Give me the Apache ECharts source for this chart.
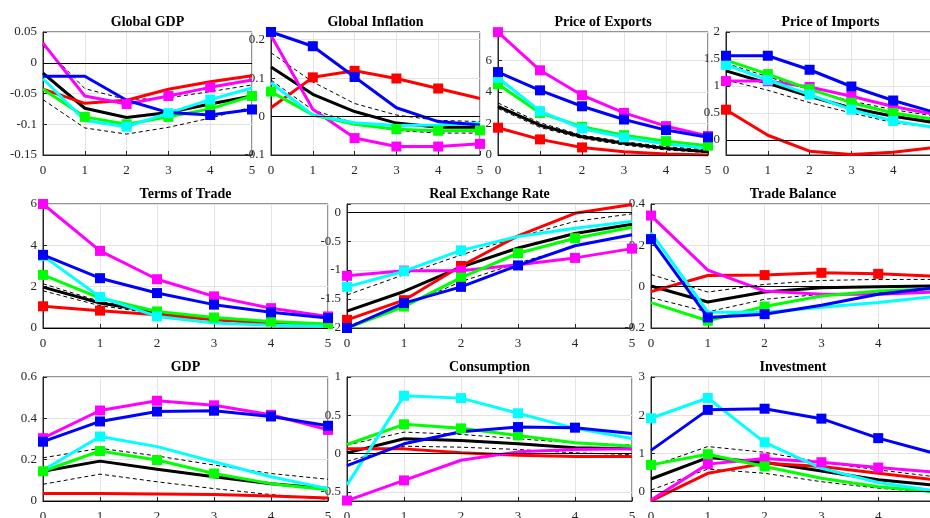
<!DOCTYPE html>
<html>
<head>
<meta charset="utf-8">
<script src="https://cdn.jsdelivr.net/npm/echarts@6/dist/echarts.min.js"></script>
<style>
  html, body { margin: 0; padding: 0; background: #fff; }
  #chart { width: 930px; height: 518px; }
</style>
</head>
<body>
<div id="chart"></div>
<script>
// horizon (quarters after shock)
const horizon = ['0', '1', '2', '3', '4', '5']

const panelTitles = [
  'Global GDP', 'Global Inflation', 'Price of Exports', 'Price of Imports',
  'Terms of Trade', 'Real Exchange Rate', 'Trade Balance',
  'GDP', 'Consumption', 'Investment',
]

// [min, max, tick step] for each panel's y axis
const yScales = [
  [-0.15, 0.05, 0.05], [-0.1, 0.22, 0.1], [0, 7.8, 2], [-0.28, 2, 0.5],
  [0, 6, 2], [-2, 0.14, 0.5], [-0.2, 0.4, 0.2],
  [0, 0.6, 0.2], [-0.62, 1, 0.5], [-0.245, 3, 1],
]

// median response (black) and its bands (black dashed), one row per panel
const medianIrf = [
  [-0.017, -0.074, -0.089, -0.081, -0.067, -0.054],
  [0.129, 0.058, 0.013, -0.017, -0.028, -0.028],
  [3.09, 1.89, 1.16, 0.74, 0.42, 0.21],
  [1.28, 1.05, 0.81, 0.59, 0.44, 0.32],
  [1.98, 1.21, 0.76, 0.43, 0.24, 0.13],
  [-1.71, -1.37, -0.95, -0.62, -0.37, -0.21],
  [0.003, -0.074, -0.026, -0.005, 0.0, 0.003],
  [0.144, 0.193, 0.154, 0.117, 0.084, 0.06],
  [0.009, 0.193, 0.171, 0.127, 0.075, 0.061],
  [0.33, 0.89, 0.77, 0.54, 0.31, 0.17],
]
const bandUpper = [
  [0.028, -0.042, -0.06, -0.057, -0.047, -0.036],
  [0.166, 0.09, 0.034, 0.004, -0.01, -0.013],
  [3.3, 2.04, 1.26, 0.84, 0.53, 0.32],
  [1.42, 1.17, 0.93, 0.72, 0.56, 0.44],
  [2.14, 1.29, 0.8, 0.48, 0.29, 0.18],
  [-1.43, -1.08, -0.74, -0.43, -0.16, -0.03],
  [0.059, -0.026, 0.011, 0.03, 0.035, 0.035],
  [0.209, 0.255, 0.218, 0.174, 0.133, 0.105],
  [0.11, 0.28, 0.25, 0.193, 0.14, 0.11],
  [0.66, 1.18, 1.03, 0.77, 0.57, 0.39],
]
const bandLower = [
  [-0.06, -0.106, -0.116, -0.105, -0.09, -0.072],
  [0.095, 0.017, -0.017, -0.036, -0.043, -0.043],
  [2.95, 1.75, 1.05, 0.63, 0.32, 0.15],
  [1.11, 0.92, 0.69, 0.5, 0.32, 0.23],
  [1.8, 1.08, 0.69, 0.37, 0.19, 0.1],
  [-1.97, -1.63, -1.2, -0.88, -0.59, -0.39],
  [-0.053, -0.122, -0.061, -0.037, -0.029, -0.021],
  [0.081, 0.13, 0.093, 0.06, 0.031, 0.008],
  [-0.1, 0.096, 0.083, 0.053, 0.009, -0.013],
  [0.04, 0.59, 0.48, 0.26, 0.09, -0.02],
]

// coloured responses
const redIrf = [
  [-0.043, -0.066, -0.061, -0.043, -0.031, -0.021],
  [0.023, 0.102, 0.119, 0.099, 0.073, 0.047],
  [1.73, 0.99, 0.48, 0.21, 0.06, 0.0],
  [0.56, 0.086, -0.21, -0.27, -0.23, -0.14],
  [1.05, 0.84, 0.64, 0.4, 0.24, 0.13],
  [-1.86, -1.52, -0.93, -0.41, -0.02, 0.13],
  [-0.024, 0.054, 0.056, 0.067, 0.062, 0.051],
  [0.036, 0.036, 0.034, 0.032, 0.024, 0.015],
  [0.061, 0.061, 0.009, -0.022, -0.04, -0.04],
  [-0.24, 0.48, 0.74, 0.66, 0.48, 0.31],
]
const magentaIrf = [
  [0.032, -0.054, -0.067, -0.054, -0.04, -0.028],
  [0.211, 0.019, -0.056, -0.078, -0.078, -0.071],
  [7.79, 5.37, 3.79, 2.67, 1.83, 1.2],
  [1.09, 1.09, 0.98, 0.81, 0.62, 0.47],
  [6.0, 3.73, 2.36, 1.53, 0.96, 0.56],
  [-1.1, -1.01, -1.01, -0.91, -0.79, -0.63],
  [0.344, 0.08, -0.021, -0.037, -0.037, -0.026],
  [0.304, 0.438, 0.485, 0.463, 0.417, 0.344],
  [-0.614, -0.351, -0.088, 0.022, 0.053, 0.061],
  [-0.22, 0.72, 0.87, 0.77, 0.63, 0.51],
]
const greenIrf = [
  [-0.043, -0.088, -0.1, -0.088, -0.075, -0.054],
  [0.065, 0.004, -0.02, -0.033, -0.037, -0.036],
  [4.48, 2.67, 1.79, 1.26, 0.88, 0.59],
  [1.48, 1.22, 0.94, 0.69, 0.5, 0.38],
  [2.57, 1.45, 0.8, 0.51, 0.32, 0.19],
  [-2.0, -1.63, -1.13, -0.71, -0.45, -0.26],
  [-0.077, -0.165, -0.096, -0.045, -0.021, -0.01],
  [0.144, 0.242, 0.198, 0.133, 0.084, 0.055],
  [0.118, 0.382, 0.329, 0.237, 0.14, 0.096],
  [0.7, 0.98, 0.66, 0.35, 0.13, 0.0],
]
const cyanIrf = [
  [-0.026, -0.094, -0.104, -0.082, -0.06, -0.041],
  [0.088, 0.004, -0.016, -0.023, -0.022, -0.017],
  [4.9, 2.78, 1.68, 1.12, 0.69, 0.42],
  [1.39, 1.11, 0.84, 0.56, 0.35, 0.23],
  [3.49, 1.5, 0.56, 0.24, 0.13, 0.08],
  [-1.29, -1.02, -0.66, -0.42, -0.28, -0.16],
  [0.262, -0.122, -0.125, -0.1, -0.077, -0.048],
  [0.149, 0.312, 0.263, 0.19, 0.117, 0.06],
  [-0.41, 0.754, 0.724, 0.526, 0.329, 0.197],
  [1.92, 2.45, 1.29, 0.61, 0.24, 0.02],
]
const blueIrf = [
  [-0.022, -0.022, -0.061, -0.081, -0.085, -0.076],
  [0.22, 0.183, 0.103, 0.023, -0.013, -0.022],
  [5.26, 4.1, 3.09, 2.25, 1.58, 1.12],
  [1.56, 1.56, 1.3, 0.99, 0.73, 0.51],
  [3.54, 2.41, 1.69, 1.13, 0.76, 0.48],
  [-2.0, -1.57, -1.29, -0.92, -0.58, -0.39],
  [0.23, -0.149, -0.133, -0.09, -0.037, -0.005],
  [0.287, 0.385, 0.433, 0.437, 0.409, 0.364],
  [-0.158, 0.127, 0.285, 0.346, 0.338, 0.263],
  [1.08, 2.14, 2.17, 1.91, 1.4, 1.0],
]

// horizons that carry a square marker, per panel
const redMarks = [[], [1, 2, 3, 4], [0, 1, 2], [0], [0, 1], [0, 1, 2], [2, 3, 4, 5], [], [], []]
const magentaMarks = [[2, 3, 4], [2, 3, 4, 5], [0, 1, 2, 3, 4, 5], [0, 1, 2, 3, 4, 5], [0, 1, 2, 3, 4, 5],
  [0, 1, 2, 4, 5], [0], [0, 1, 2, 3, 4, 5], [0, 1], [1, 2, 3, 4]]
const greenMarks = [[1, 2, 3, 4, 5], [0, 3, 4, 5], [0, 1, 2, 3, 4, 5], [0, 1, 2, 3, 4], [0, 2, 3, 4, 5],
  [1, 2, 3, 4], [1, 2], [0, 1, 2, 3], [1, 2, 3], [0, 1, 2]]
const cyanMarks = [[2, 3, 4], [], [0, 1, 2, 3], [0, 1, 2, 3, 4, 5], [0, 1, 2], [0, 1, 2], [], [1], [1, 2, 3], [0, 1, 2]]
const blueMarks = [[4, 5], [0, 1, 2], [0, 1, 2, 3, 4, 5], [0, 1, 2, 3, 4, 5], [0, 1, 2, 3, 4, 5],
  [0, 1, 2, 3], [0, 1, 2], [0, 1, 2, 3, 4, 5], [3, 4], [1, 2, 3, 4]]

// plot boxes [left, top, width, height] (matlab subplot layout, right column runs off the page)
const boxes = [
  [43, 32, 209, 123], [271, 32, 209, 123], [498, 32, 210, 123], [726, 32, 209, 123],
  [43, 204, 285, 124], [347, 204, 285, 124], [651, 204, 284, 124],
  [43, 377, 285, 124], [347, 377, 285, 124], [651, 377, 284, 124],
]

const FONT = '"Liberation Serif", "DejaVu Serif", serif'
const AXIS_COLOR = '#262626'

function fmt(v, step) {
  const k = v / step
  if (Math.abs(k - Math.round(k)) > 1e-6) return ''
  const r = parseFloat((Math.round(k) * step).toFixed(4))
  return r === 0 ? '0' : String(r)
}

function colouredSeries(i, name, color, values, marks) {
  return {
    name: name,
    type: 'line',
    xAxisIndex: i,
    yAxisIndex: i,
    symbolSize: 10,
    showAllSymbol: true,
    lineStyle: { color: color, width: 3 },
    itemStyle: { color: color },
    data: values.map((v, j) => ({ value: v, symbol: marks.includes(j) ? 'rect' : 'none' })),
  }
}

const chart = echarts.init(document.getElementById('chart'), null, { renderer: 'canvas' })

const grid = []
const xAxis = []
const yAxis = []
const title = []
const series = []

boxes.forEach((b, i) => {
  const [ymin, ymax, step] = yScales[i]
  grid.push({
    left: b[0], top: b[1], width: b[2], height: b[3],
    outerBoundsMode: 'none',
    containLabel: false,
    show: true, backgroundColor: '#fff', borderColor: AXIS_COLOR, borderWidth: 1,
  })
  title.push({
    text: panelTitles[i],
    left: b[0] + b[2] / 2,
    top: b[1] - 17,
    padding: 0,
    textAlign: 'center',
    textStyle: { fontFamily: FONT, fontSize: 14, fontWeight: 'bold', color: '#000' },
  })
  xAxis.push({
    type: 'category',
    gridIndex: i,
    data: horizon,
    boundaryGap: false,
    axisLine: { onZero: false, lineStyle: { color: AXIS_COLOR } },
    axisTick: { inside: true, length: 4, lineStyle: { color: AXIS_COLOR } },
    axisLabel: { fontFamily: FONT, fontSize: 13, color: AXIS_COLOR, margin: 9 },
    splitLine: { show: true, lineStyle: { color: '#e3e3e3' } },
  })
  yAxis.push({
    type: 'value',
    gridIndex: i,
    min: ymin,
    max: ymax,
    minInterval: step,
    maxInterval: step,
    axisLine: { show: true, lineStyle: { color: AXIS_COLOR } },
    axisTick: { show: true, inside: true, length: 4, lineStyle: { color: AXIS_COLOR } },
    axisLabel: {
      fontFamily: FONT, fontSize: 13, color: AXIS_COLOR, margin: 6,
      formatter: (v) => fmt(v, step),
    },
    splitLine: { show: true, lineStyle: { color: '#e3e3e3' } },
  })

  series.push({
    name: 'upper band',
    type: 'line',
    xAxisIndex: i,
    yAxisIndex: i,
    symbol: 'none',
    lineStyle: { color: '#000', width: 1, type: [4, 3] },
    data: bandUpper[i],
    markLine: {
      silent: true,
      symbol: 'none',
      label: { show: false },
      lineStyle: { color: '#000', width: 1, type: 'solid' },
      data: [{ yAxis: 0 }],
    },
  })
  series.push({
    name: 'lower band',
    type: 'line',
    xAxisIndex: i,
    yAxisIndex: i,
    symbol: 'none',
    lineStyle: { color: '#000', width: 1, type: [4, 3] },
    data: bandLower[i],
  })
  series.push({
    name: 'median',
    type: 'line',
    xAxisIndex: i,
    yAxisIndex: i,
    symbol: 'none',
    lineStyle: { color: '#000', width: 3 },
    data: medianIrf[i],
  })
  series.push(colouredSeries(i, 'red', '#ff0000', redIrf[i], redMarks[i]))
  series.push(colouredSeries(i, 'magenta', '#ff00ff', magentaIrf[i], magentaMarks[i]))
  series.push(colouredSeries(i, 'green', '#00ff00', greenIrf[i], greenMarks[i]))
  series.push(colouredSeries(i, 'cyan', '#00ffff', cyanIrf[i], cyanMarks[i]))
  series.push(colouredSeries(i, 'blue', '#0000ff', blueIrf[i], blueMarks[i]))
})

chart.setOption({
  animation: false,
  backgroundColor: '#fff',
  title: title,
  grid: grid,
  xAxis: xAxis,
  yAxis: yAxis,
  series: series,
})
</script>
</body>
</html>
